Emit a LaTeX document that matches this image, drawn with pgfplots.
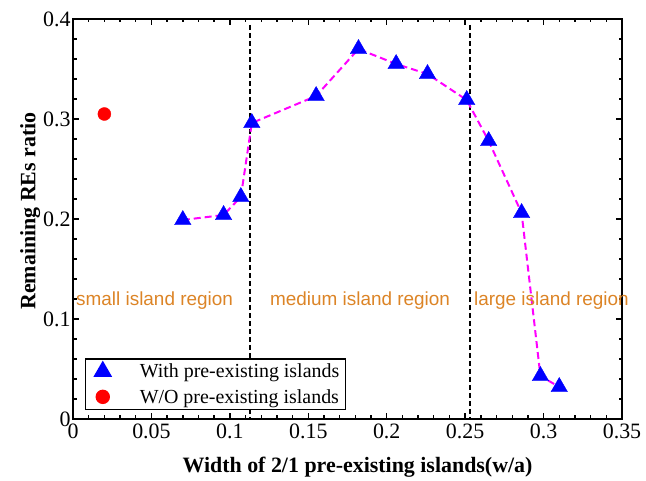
\documentclass[border=0pt]{standalone}
\usepackage{fontspec}
\setmainfont{Liberation Serif}
\newfontfamily\arialfont{Liberation Sans}
\usepackage{pgfplots}
\pgfplotsset{compat=1.18}
\usepackage{pgfplotstable}

\definecolor{regionorange}{RGB}{220,132,38}
\definecolor{linemagenta}{RGB}{255,0,255}

% remaining RE ratio versus 2/1 island width (w/a)
\pgfplotstableread{
w      r
0.070  0.199
0.096  0.204
0.107  0.222
0.114  0.296
0.155  0.323
0.182  0.370
0.206  0.355
0.226  0.345
0.251  0.319
0.265  0.278
0.286  0.206
0.298  0.043
0.310  0.032
}\withislands

\pgfplotstableread{
w      r
0.020  0.305
}\withoutislands

% legend sample: a single mark, set in from the box edge, with room before the text
\pgfplotsset{
  wide mark legend/.style={
    legend image code/.code={%
      \draw[draw=none, mark repeat=2, mark phase=2, ##1]
        plot coordinates {(0bp,0bp) (13bp,0bp) (48bp,0bp)};}},
}

\begin{document}
\begin{tikzpicture}
\begin{axis}[
  scale only axis,
  width=549bp, height=400bp,
  xmin=0, xmax=0.35, ymin=0, ymax=0.4,
  xtick={0,0.05,...,0.35},
  ytick={0,0.1,...,0.4},
  xticklabels={0,0.05,0.1,0.15,0.2,0.25,0.3,0.35},
  yticklabels={0,0.1,0.2,0.3,0.4},
  minor x tick num=4,
  minor y tick num=4,
  tick align=inside,
  major tick length=6bp,
  minor tick length=3.5bp,
  tick style={black, line width=1.4bp},
  axis line style={black, line width=1.8bp},
  /pgf/number format/assume math mode=true,
  tick label style={font=\fontsize{22}{24}\selectfont},
  xticklabel style={yshift=-1bp},
  yticklabel style={xshift=1bp},
  xlabel={\bfseries Width of 2/1 pre-existing islands(w/a)},
  ylabel={\bfseries Remaining REs ratio},
  label style={font=\fontsize{22}{24}\selectfont},
  xlabel style={yshift=-12bp, xshift=10bp},
  ylabel style={yshift=-4bp, xshift=8bp},
  legend style={
    at={(0.022,0.022)}, anchor=south west,
    draw=black, line width=1.4bp,
    font=\fontsize{20}{22}\selectfont,
    row sep=6bp, inner xsep=4bp, inner ysep=3bp,
    legend cell align=left,
  },
  clip=false,
]
  % region boundaries
  \addplot[black, line width=1.8bp, dash pattern=on 5bp off 3bp, forget plot]
    coordinates {(0.113,0.394) (0.113,0.0)};
  \addplot[black, line width=1.8bp, dash pattern=on 5bp off 3bp, forget plot]
    coordinates {(0.253,0.394) (0.253,0.0)};

  % connecting curve
  \addplot[linemagenta, line width=2bp, dash pattern=on 7bp off 4bp, forget plot]
    table[x=w, y=r] {\withislands};

  \addplot[draw=none, mark=triangle*, mark size=9.5bp,
           mark options={solid, fill=blue, draw=blue}, wide mark legend]
    table[x=w, y=r] {\withislands};
  \addlegendentry{With pre-existing islands}

  \addplot[draw=none, mark=*, mark size=6.5bp,
           mark options={solid, fill=red, draw=red}, wide mark legend]
    table[x=w, y=r] {\withoutislands};
  \addlegendentry{W/O pre-existing islands}

  \node[regionorange, font=\arialfont\fontsize{19}{21}\selectfont]
    at (axis cs:0.052,0.118) {small island region};
  \node[regionorange, font=\arialfont\fontsize{19}{21}\selectfont]
    at (axis cs:0.183,0.118) {medium island region};
  \node[regionorange, font=\arialfont\fontsize{19}{21}\selectfont]
    at (axis cs:0.305,0.118) {large island region};
\end{axis}
\path ([xshift=-73bp,yshift=-59bp]current axis.south west)
  rectangle ([xshift=24bp,yshift=19bp]current axis.north east);
\end{tikzpicture}
\end{document}
